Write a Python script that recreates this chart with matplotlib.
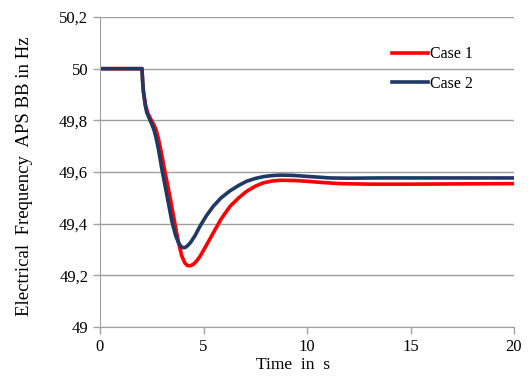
import matplotlib
matplotlib.use("Agg")
import matplotlib.pyplot as plt
from matplotlib.ticker import FuncFormatter

# time (s) and frequency (Hz)
t_case1 = [0, 2.03, 2.06, 2.1, 2.2, 2.3, 2.42, 2.52, 2.62, 2.72, 2.82, 2.95, 3.14, 3.39,
           3.63, 3.8, 3.95, 4.1, 4.22, 4.35, 4.5, 4.65, 4.83, 5.15, 5.47, 5.85, 6.28, 6.7,
           7.08, 7.5, 7.89, 8.3, 8.7, 9.4, 10.0, 10.8, 11.6, 13.0, 15.0, 17.5, 20.0]
f_case1 = [50.0, 50.0, 49.95, 49.91, 49.86, 49.83, 49.81, 49.795, 49.78, 49.76, 49.73,
           49.68, 49.60, 49.50, 49.395, 49.325, 49.275, 49.248, 49.238, 49.237, 49.242,
           49.254, 49.273, 49.318, 49.364, 49.418, 49.467, 49.50, 49.525, 49.545, 49.558,
           49.565, 49.568, 49.567, 49.564, 49.559, 49.555, 49.553, 49.553, 49.554, 49.555]

t_case2 = [0, 2.03, 2.06, 2.1, 2.18, 2.26, 2.34, 2.42, 2.5, 2.6, 2.7, 2.82, 2.98, 3.22,
           3.47, 3.65, 3.8, 3.92, 4.02, 4.12, 4.25, 4.4, 4.6, 4.83, 5.15, 5.47, 5.85, 6.28,
           6.7, 7.08, 7.5, 7.89, 8.3, 8.7, 9.3, 10.0, 11.1, 12.0, 13.5, 15.0, 17.5, 20.0]
f_case2 = [50.0, 50.0, 49.95, 49.91, 49.86, 49.83, 49.815, 49.80, 49.785, 49.765, 49.735,
           49.69, 49.615, 49.515, 49.41, 49.355, 49.325, 49.311, 49.307, 49.308, 49.316,
           49.33, 49.355, 49.39, 49.432, 49.467, 49.50, 49.527, 49.548, 49.564, 49.575,
           49.582, 49.586, 49.588, 49.587, 49.583, 49.577, 49.576, 49.577, 49.577, 49.577,
           49.577]

labels = ["Case 1", "Case 2"]
colors = ["#FF0000", "#1F3864"]

plt.rcParams["font.family"] = ["Liberation Serif", "DejaVu Serif"]

fig = plt.figure(figsize=(5.28, 3.76), dpi=100)
ax = fig.add_axes([100 / 528, 1 - 327 / 376, 414 / 528, 310 / 376])

ax.plot(t_case1, f_case1, color=colors[0], lw=2.6, label=labels[0])
ax.plot(t_case2, f_case2, color=colors[1], lw=2.6, label=labels[1])

ax.set_xlim(0, 20)
ax.set_ylim(49, 50.2)
ax.set_xticks([0, 5, 10, 15, 20])
ax.set_yticks([49, 49.2, 49.4, 49.6, 49.8, 50, 50.2])
ax.yaxis.set_major_formatter(FuncFormatter(lambda v, p: f"{v:g}".replace(".", ",")))
ax.grid(axis="y", color="#A0A0A0", lw=1)
ax.set_axisbelow(True)
for s in ["top", "right"]:
    ax.spines[s].set_visible(False)
for s in ["left", "bottom"]:
    ax.spines[s].set_color("#A0A0A0")
ax.tick_params(colors="#A0A0A0", labelcolor="black", labelsize=12, length=5, width=1)

ax.set_xlabel("Time  in  s", fontsize=12.5)
ax.set_ylabel("Electrical  Frequency  APS BB in Hz", fontsize=13.5)
ax.xaxis.set_label_coords(0.466, -0.098)
ax.yaxis.set_label_coords(-0.162, 0.487)

ax.legend(loc="upper left", bbox_to_anchor=(0.67, 0.952), frameon=False, fontsize=11.5,
          handlelength=2.3, handletextpad=0.1, labelspacing=0.85)

fig.savefig("out.png", dpi=100)
